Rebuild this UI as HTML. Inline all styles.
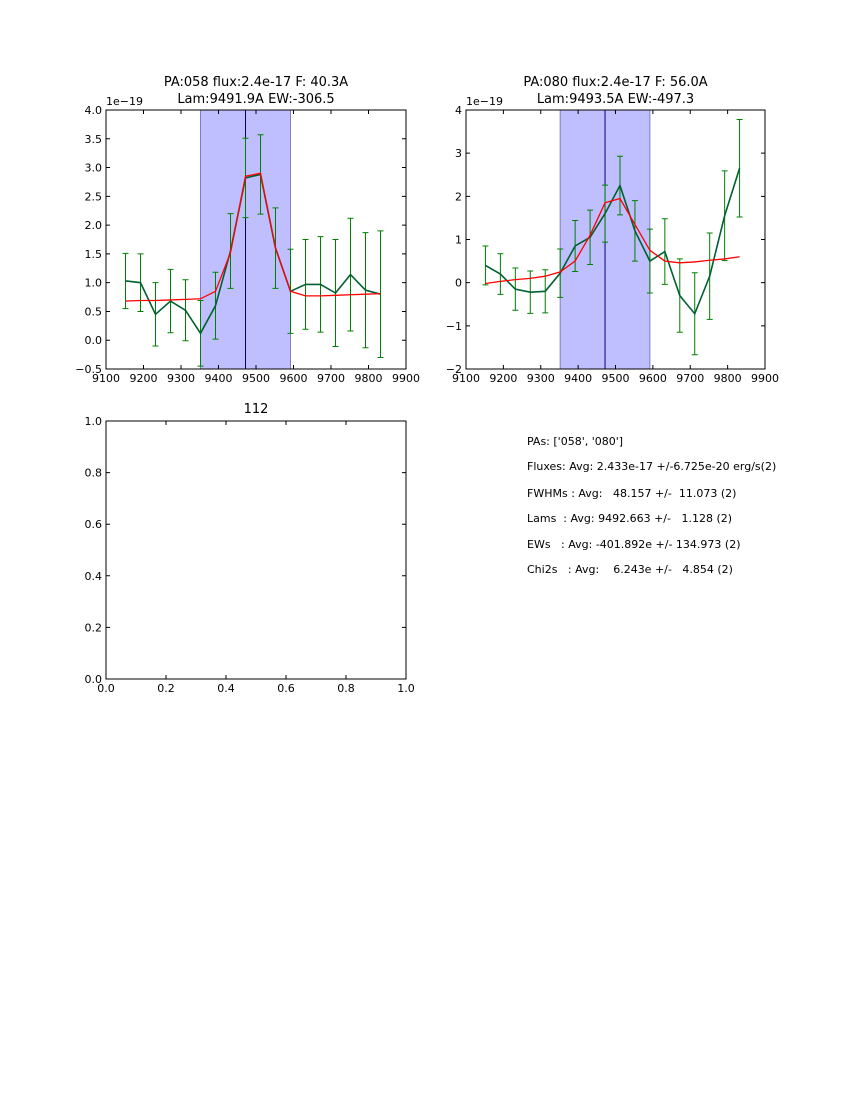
<!DOCTYPE html>
<html><head><meta charset="utf-8"><style>
body{margin:0;background:#fff;}
svg{display:block;font-family:"DejaVu Sans","Liberation Sans",sans-serif;}
</style></head><body>
<svg id="s" width="850" height="1100"></svg>
<script>
const xs=[9152,9192,9232,9272,9312,9352,9392,9432,9472,9512,9552,9592,9632,9672,9712,9752,9792,9832];
const p1Vals=[1.03,1.0,0.45,0.68,0.52,0.12,0.6,1.55,2.82,2.88,1.6,0.85,0.97,0.97,0.82,1.14,0.87,0.8];
const p1Errs=[0.48,0.5,0.55,0.55,0.53,0.57,0.58,0.65,0.69,0.69,0.7,0.73,0.78,0.83,0.93,0.98,1.0,1.1];
const p1Model=[0.68,0.69,0.69,0.7,0.71,0.72,0.85,1.52,2.85,2.9,1.6,0.85,0.77,0.77,0.78,0.79,0.8,0.81];
const p2Vals=[0.4,0.2,-0.15,-0.22,-0.2,0.22,0.85,1.05,1.6,2.25,1.2,0.5,0.72,-0.3,-0.72,0.15,1.55,2.65];
const p2Errs=[0.45,0.47,0.49,0.49,0.5,0.56,0.59,0.63,0.66,0.68,0.7,0.74,0.76,0.85,0.95,1.0,1.04,1.13];
const p2Model=[-0.02,0.03,0.07,0.1,0.15,0.25,0.5,1.1,1.85,1.95,1.35,0.75,0.5,0.46,0.48,0.52,0.55,0.6];
const xTicks=[9100,9200,9300,9400,9500,9600,9700,9800,9900];
const p1YTicks=["-0.5","0.0","0.5","1.0","1.5","2.0","2.5","3.0","3.5","4.0"];
const p2YTicks=["-2","-1","0","1","2","3","4"];
const p3Ticks=["0.0","0.2","0.4","0.6","0.8","1.0"];
const span=[9352,9592], lineX=9472;
const NS="http://www.w3.org/2000/svg", svg=document.getElementById('s');
function el(t,a,p){const e=document.createElementNS(NS,t);for(const k in a)e.setAttribute(k,a[k]);(p||svg).appendChild(e);return e;}
function txt(x,y,s,anchor,size,p){const e=el('text',{x:x,y:y,'text-anchor':anchor||'middle','font-size':size||11},p);e.textContent=s;return e;}
function panel(name,L,T,W,H,xmin,xmax,ymin,ymax,yt,vals,errs,model,title1,title2){
  const g=el('g',{});
  
  
  const X=v=>L+(v-xmin)/(xmax-xmin)*W, Y=v=>T+H-(v-ymin)/(ymax-ymin)*H;
  const sp=el('rect',{x:X(span[0]),y:T,width:X(span[1])-X(span[0]),height:H,fill:'#bfbfff',stroke:'#8080c0','stroke-width':1},g);
  
  
  const vl=el('line',{x1:X(lineX),x2:X(lineX),y1:T,y2:T+H,stroke:'#000080','stroke-width':1},g);
  
  
  xs.forEach((x,i)=>{const c=X(x),a=Y(vals[i]+errs[i]),b=Y(vals[i]-errs[i]);
    const eb=el('path',{d:`M${c},${a}V${b}M${c-3},${a}H${c+3}M${c-3},${b}H${c+3}`,stroke:'#008000','stroke-width':1,fill:'none'},g);
    
    });
  const dl=el('polyline',{points:xs.map((x,i)=>X(x)+','+Y(vals[i])).join(' '),fill:'none',stroke:'#006030','stroke-width':1.6},g);
  
  
  const ml=el('polyline',{points:xs.map((x,i)=>X(x)+','+Y(model[i])).join(' '),fill:'none',stroke:'#ff0000','stroke-width':1.3},g);
  
  
  el('rect',{x:L,y:T,width:W,height:H,fill:'none',stroke:'#000','stroke-width':1},g);
  xTicks.forEach(v=>{const c=X(v);el('path',{d:`M${c},${T+H}v-4M${c},${T}v4`,stroke:'#000'},g);txt(c,T+H+13,String(v),'middle',11,g);});
  yt.forEach(s=>{const c=Y(parseFloat(s));el('path',{d:`M${L},${c}h4M${L+W},${c}h-4`,stroke:'#000'},g);txt(L-4,c+4,s.replace('-','−'),'end',11,g);});
  txt(L,T-5,'1e−19','start',11,g);
  txt(L+W/2,T-24,title1,'middle',13,g);
  txt(L+W/2,T-7,title2,'middle',13,g);
}
panel('spectrum-pa058',106,110,300,259,9100,9900,-0.5,4.0,p1YTicks,p1Vals,p1Errs,p1Model,'PA:058 flux:2.4e-17 F: 40.3A','Lam:9491.9A EW:-306.5');
panel('spectrum-pa080',466,110,299,259,9100,9900,-2,4,p2YTicks,p2Vals,p2Errs,p2Model,'PA:080 flux:2.4e-17 F: 56.0A','Lam:9493.5A EW:-497.3');
const g3=el('g',{});


el('rect',{x:106,y:421,width:300,height:258,fill:'none',stroke:'#000'},g3);
p3Ticks.forEach(s=>{const v=parseFloat(s),x=106+v*300,y=679-v*258;
  el('path',{d:`M${x},679v-4M${x},421v4M106,${y}h4M406,${y}h-4`,stroke:'#000'},g3);
  txt(x,692,s,'middle',11,g3);txt(102,y+4,s,'end',11,g3);});
txt(256,413,'112','middle',13,g3);
const lines=["PAs: ['058', '080']","Fluxes: Avg: 2.433e-17 +/-6.725e-20 erg/s(2)","FWHMs : Avg:   48.157 +/-  11.073 (2)","Lams  : Avg: 9492.663 +/-   1.128 (2)","EWs   : Avg: -401.892e +/- 134.973 (2)","Chi2s   : Avg:    6.243e +/-   4.854 (2)"];
const ly=[441,466,493,518,544,569];
const g4=el('g',{});


lines.forEach((s,i)=>{const t=txt(527,ly[i]+4,s,'start',11,g4);t.style.whiteSpace='pre';});
</script>
</body></html>
